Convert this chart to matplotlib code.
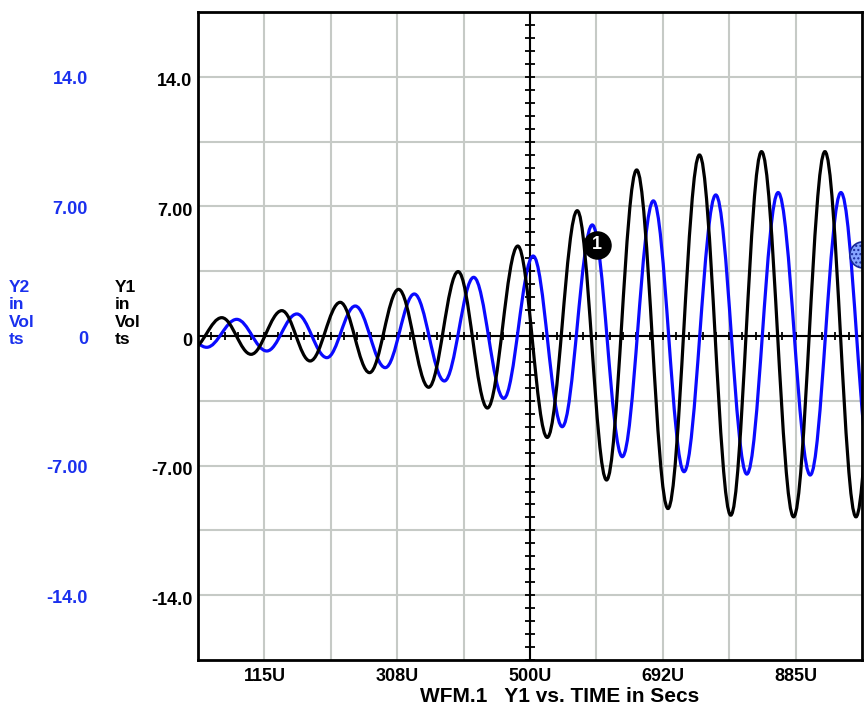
import numpy as np
import matplotlib
import matplotlib.pyplot as plt
import matplotlib.patches as patches
import matplotlib.transforms as mtransforms
from matplotlib.path import Path

matplotlib.use("Agg")

# time axis in microseconds
x_lo, x_hi = 18.75, 981.25
x_grid = [18.75 + 96.25 * k for k in range(11)]
x_label_pos = [115.0, 307.5, 500.0, 692.5, 885.0]
x_labels = ["115U", "308U", "500U", "692U", "885U"]

y_lo, y_hi = -17.5, 17.5
y_grid = [-17.5 + 3.5 * k for k in range(11)]
y_label_pos = [14.0, 7.0, 0.0, -7.0, -14.0]
y_labels = ["14.0", "7.00", "0", "-7.00", "-14.0"]

# extrema (peaks / troughs), time in us, value in volts
y1_t = [9.6, 53.2, 95.7, 140.3, 181.3, 224.9, 267.4, 309.5, 353.1, 395.8,
        438.3, 482.3, 525.0, 568.5, 611.0, 654.6, 700.0, 745.6, 791.0,
        835.6, 882.1, 927.5, 972.5, 1017.5]
y1_v = [-0.7, 0.99, -0.99, 1.37, -1.35, 1.82, -1.98, 2.52, -2.77, 3.48,
        -3.89, 4.86, -5.48, 6.77, -7.78, 8.97, -9.32, 9.78, -9.68,
        9.96, -9.77, 9.96, -9.77, 9.96]

y2_t = [-12.2, 31.4, 74.9, 118.5, 162.0, 205.6, 246.7, 290.2, 332.3, 375.9,
        418.4, 462.0, 504.6, 546.7, 590.3, 633.8, 678.8, 723.3, 769.3,
        814.3, 859.7, 906.2, 950.7, 995.7]
y2_v = [0.6, -0.61, 0.90, -0.81, 1.19, -1.17, 1.62, -1.71, 2.27, -2.43,
        3.17, -3.37, 4.32, -4.90, 6.0, -6.52, 7.30, -7.33, 7.62,
        -7.46, 7.75, -7.51, 7.75, -7.5]

marker1 = (596.5, 4.92)
marker2 = (982.5, 4.38)

BLUE = "#0a0aff"
LABEL_BLUE = "#1a30ee"
GRID = "#c6cac6"
FONT = "Liberation Sans"


def wave_path(ts, vs):
    """Bezier half-waves between successive extrema (flat at each extremum)."""
    k = 0.3634
    verts = [(ts[0], vs[0])]
    codes = [Path.MOVETO]
    for (t0, v0), (t1, v1) in zip(zip(ts[:-1], vs[:-1]), zip(ts[1:], vs[1:])):
        dt = t1 - t0
        verts += [(t0 + k * dt, v0), (t1 - k * dt, v1), (t1, v1)]
        codes += [Path.CURVE4] * 3
    return Path(verts, codes)


fig = plt.figure(figsize=(8.65, 7.06), dpi=100)
ax = fig.add_axes([198 / 865, 1 - 660 / 706, 664 / 865, 648 / 706])
ax.set_xlim(x_lo, x_hi)
ax.set_ylim(y_lo, y_hi)

for x in x_grid[1:-1]:
    ax.axvline(x, color=GRID, lw=1.5, zorder=1)
for y in y_grid[1:-1]:
    ax.axhline(y, color=GRID, lw=1.5, zorder=1)

# centre crosshair with small ticks
ax.axvline(500, color="black", lw=1.5, zorder=2)
ax.axhline(0, color="black", lw=1.5, zorder=2)
xt = np.arange(x_lo, x_hi + 0.1, 96.25 / 5)
ax.plot(xt, np.zeros_like(xt), ls="none", marker="|", ms=6, mew=1.3,
        color="black", zorder=2)
yt = np.arange(y_lo, y_hi + 0.01, 0.7)
ax.plot(np.full_like(yt, 500), yt, ls="none", marker="_", ms=7, mew=1.3,
        color="black", zorder=2)

ax.add_patch(patches.PathPatch(wave_path(y2_t, y2_v), fill=False,
                               edgecolor=BLUE, lw=2.3, zorder=3,
                               joinstyle="round", capstyle="round"))
ax.add_patch(patches.PathPatch(wave_path(y1_t, y1_v), fill=False,
                               edgecolor="black", lw=2.3, zorder=4,
                               joinstyle="round", capstyle="round"))

# waveform markers
ax.plot(*marker1, marker="o", ms=19.5, color="black", zorder=6)
ax.text(*marker1, "1", color="white", fontsize=13, fontweight="bold",
        family=FONT, ha="center", va="center", zorder=7)
trans2 = fig.dpi_scale_trans + mtransforms.ScaledTranslation(
    marker2[0], marker2[1], ax.transData)
c2 = patches.Circle((0, 0), 0.13, transform=trans2, facecolor="#86a4ff",
                    edgecolor="#1a2a9a", hatch="....", lw=1.2, zorder=6)
ax.add_patch(c2)
c2.set_clip_path(ax.patch)
ax.set_xlim(x_lo, x_hi)
ax.set_ylim(y_lo, y_hi)

for s in ax.spines.values():
    s.set_linewidth(2)
    s.set_zorder(8)

ax.set_xticks(x_label_pos)
ax.set_xticklabels(x_labels, fontsize=13, fontweight="bold", family=FONT)
ax.set_yticks(y_label_pos)
ax.set_yticklabels(y_labels, fontsize=13, fontweight="bold", family=FONT)
ax.tick_params(length=0, pad=4)
ax.tick_params(axis="x", pad=6)

shift = mtransforms.ScaledTranslation(0, -0.03, fig.dpi_scale_trans)
for lab in ax.get_yticklabels():
    lab.set_transform(lab.get_transform() + shift)

# Y2 (blue) labels on the far left
blend = mtransforms.blended_transform_factory(fig.transFigure, ax.transData)
for yv, lab in zip(y_label_pos, y_labels):
    ax.text(88 / 865, yv, lab, transform=blend + shift, ha="right",
            va="center", color=LABEL_BLUE, fontsize=13, fontweight="bold",
            family=FONT)

fig.text(9 / 865, 1 - 280 / 706, "Y2\nin\nVol\nts", color=LABEL_BLUE,
         fontsize=12.5, fontweight="bold", family=FONT, va="top", ha="left",
         linespacing=1.2)
fig.text(115 / 865, 1 - 280 / 706, "Y1\nin\nVol\nts", color="black",
         fontsize=12.5, fontweight="bold", family=FONT, va="top", ha="left",
         linespacing=1.2)

fig.text(560 / 865, 1 - 697 / 706, "WFM.1   Y1 vs. TIME in Secs",
         fontsize=15, fontweight="bold", family=FONT, ha="center",
         va="center")

fig.savefig("out.png", dpi=100)
